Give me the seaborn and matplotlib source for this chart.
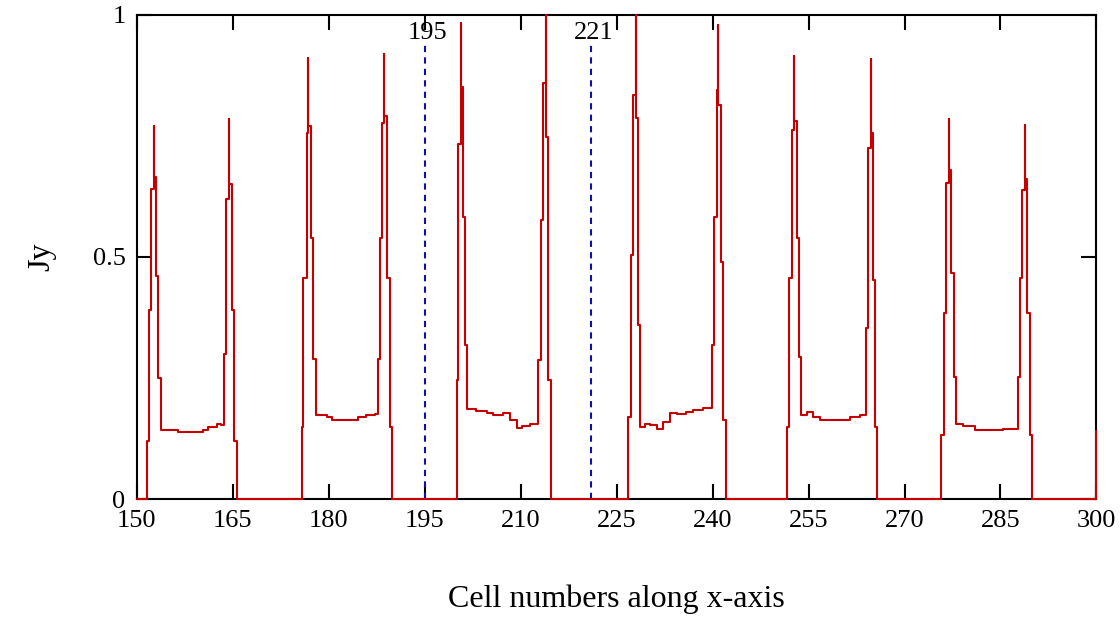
import numpy as np
import pandas as pd
import seaborn as sns
import matplotlib
matplotlib.use("Agg")
import matplotlib.pyplot as plt

# Jy profile: (cell position, value) breakpoints per block,
# drawn as a step curve. Each block = left edge, flat top, right edge.
b1_x = [151.60, 151.87, 152.28, 152.64, 152.68, 153.05, 153.38,
        153.75, 156.4, 160.4, 161.2, 162.5, 163.2,
        163.60, 164.00, 164.40, 164.44, 164.90, 165.25, 165.63]
b1_y = [0.12, 0.39, 0.64, 0.77, 0.665, 0.46, 0.25,
        0.143, 0.139, 0.142, 0.148, 0.155, 0.152,
        0.30, 0.62, 0.785, 0.65, 0.39, 0.12, 0.0]

b2_x = [175.78, 176.03, 176.56, 176.81, 176.85, 177.23, 177.59,
        177.97, 179.7, 180.5, 184.6, 185.9, 187.2,
        187.66, 188.02, 188.38, 188.69, 188.73, 189.16, 189.58, 189.94]
b2_y = [0.149, 0.456, 0.756, 0.91, 0.77, 0.54, 0.29,
        0.173, 0.169, 0.163, 0.169, 0.173, 0.176,
        0.29, 0.54, 0.776, 0.919, 0.79, 0.456, 0.149, 0.0]

b3_x = [200.00, 200.25, 200.63, 200.67, 201.03, 201.30,
        201.66, 203.1, 204.7, 205.7, 207.3, 208.3, 209.4, 210.2, 211.5,
        212.75, 213.13, 213.53, 213.95, 213.99, 214.31, 214.69]
b3_y = [0.246, 0.734, 0.982, 0.85, 0.583, 0.318,
        0.187, 0.182, 0.178, 0.173, 0.178, 0.163, 0.146, 0.151, 0.154,
        0.287, 0.576, 0.859, 1.0, 0.748, 0.246, 0.0]

b4_x = [226.81, 227.23, 227.59, 227.97, 228.01, 228.28,
        228.64, 229.4, 230.2, 231.25, 232.3, 233.3, 234.4, 235.9, 237.0, 238.5,
        239.84, 240.20, 240.63, 240.88, 240.92, 241.30, 241.66, 242.03]
b4_y = [0.17, 0.504, 0.834, 1.0, 0.787, 0.36,
        0.149, 0.156, 0.152, 0.145, 0.16, 0.178, 0.175, 0.18, 0.183, 0.188,
        0.318, 0.583, 0.845, 0.979, 0.814, 0.49, 0.163, 0.0]

b5_x = [251.66, 251.97, 252.39, 252.75, 252.79, 253.13, 253.48,
        253.84, 254.7, 255.7, 256.8, 261.5, 263.0,
        263.95, 264.31, 264.69, 264.73, 265.00, 265.36, 265.72]
b5_y = [0.149, 0.456, 0.762, 0.915, 0.78, 0.539, 0.293,
        0.173, 0.18, 0.17, 0.163, 0.17, 0.173,
        0.353, 0.725, 0.909, 0.755, 0.452, 0.149, 0.0]

b6_x = [275.78, 276.14, 276.56, 276.92, 276.96, 277.34, 277.70,
        278.06, 279.2, 281.0, 285.4,
        287.66, 288.02, 288.38, 288.80, 288.84, 289.16, 289.58, 289.94]
b6_y = [0.132, 0.384, 0.652, 0.785, 0.68, 0.467, 0.252,
        0.156, 0.151, 0.142, 0.145,
        0.252, 0.456, 0.638, 0.772, 0.66, 0.384, 0.132, 0.0]

start_x, start_y = [150.0], [0.0]
end_x, end_y = [300.0], [0.14]

marker_cells = [195, 221]
marker_top = 0.944

x_ticks = [150, 165, 180, 195, 210, 225, 240, 255, 270, 285, 300]
y_ticks = [0, 0.5, 1]
y_ticklabels = ["0", "0.5", "1"]

df = pd.DataFrame({
    "cell": start_x + b1_x + b2_x + b3_x + b4_x + b5_x + b6_x + end_x,
    "Jy": start_y + b1_y + b2_y + b3_y + b4_y + b5_y + b6_y + end_y,
})

sns.set_style("white")
plt.rcParams["font.family"] = ["Liberation Serif", "DejaVu Serif"]
plt.rcParams["text.color"] = "black"
plt.rcParams["axes.labelcolor"] = "black"

fig = plt.figure(figsize=(11.2, 6.27), dpi=100)
ax = fig.add_axes([0.122, 0.204, 0.857, 0.7726])

sns.lineplot(data=df, x="cell", y="Jy", estimator=None, sort=False,
             drawstyle="steps-post", color="#c40000", lw=1.5,
             zorder=3, clip_on=False, ax=ax)

for c in marker_cells:
    ax.plot([c, c], [0, marker_top], color="#1010a8", lw=1.5,
            ls=(0, (3, 2.5)), zorder=2)
    ax.text(c + 0.5, 0.962, str(c), ha="center", va="center",
            fontsize=19, color="black")

ax.set_xlim(150, 300)
ax.set_ylim(0, 1)
ax.set_xticks(x_ticks)
ax.set_xticklabels([str(t) for t in x_ticks])
ax.set_yticks(y_ticks)
ax.set_yticklabels(y_ticklabels)
ax.tick_params(direction="in", length=11, width=1.5,
               bottom=True, left=True, top=True, right=True,
               labelsize=19, pad=8, colors="black")

for s in ax.spines.values():
    s.set_color("black")
    s.set_linewidth(1.5)

ax.set_xlabel("Cell numbers along x-axis", fontsize=23, labelpad=38)
ax.set_ylabel("Jy", fontsize=23, labelpad=26)

fig.savefig("out.png", dpi=100, facecolor="white")
